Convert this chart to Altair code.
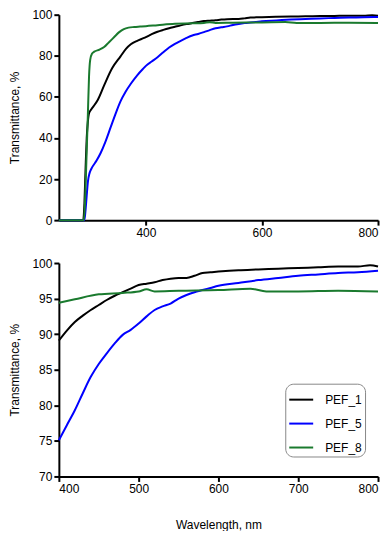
import altair as alt
import pandas as pd

series_names = ["PEF_1", "PEF_5", "PEF_8"]
series_colors = ["#000000", "#0000ff", "#1a7a2e"]

# PEF_1 (black)
wl_1 = [250, 292, 294, 296, 298, 300, 302, 306, 310, 317, 328, 342, 356, 366, 374, 385, 397,
        400, 410, 420, 430, 440, 450, 460, 470, 480, 490, 500, 510, 520, 530, 540, 550, 560,
        570, 580, 590, 600, 625, 650, 675, 700, 725, 750, 775, 790, 800]
t_1 = [0, 0, 8, 25, 40, 48, 52, 54, 55.5, 58.5, 65.6, 74, 79.6, 83.5, 85.6, 87.3, 88.7,
       89.1, 90.5, 91.7, 92.6, 93.4, 94.1, 94.8, 95.4, 95.9, 96.4, 96.9, 97.1, 97.3, 97.6, 97.8, 97.9, 97.9,
       98.2, 98.6, 98.7, 98.8, 99.0, 99.1, 99.2, 99.3, 99.4, 99.5, 99.5, 99.7, 99.5]

# PEF_5 (blue)
wl_5 = [250, 294, 296, 298, 300, 303, 306, 315, 322, 330, 339, 348, 356, 365, 374, 385, 397,
        400, 410, 420, 430, 440, 450, 460, 470, 480, 490, 500, 510, 520, 530, 540, 550, 560,
        570, 580, 590, 600, 625, 650, 675, 700, 725, 750, 775, 800]
t_5 = [0, 0, 5, 12, 18.6, 23, 25, 29, 32.7, 38, 45, 52, 57.7, 62.5, 66.4, 70.5, 74.2,
       75.1, 77.2, 79.3, 81.7, 84.0, 85.8, 87.3, 88.7, 89.9, 90.6, 91.5, 92.5, 93.4, 93.9, 94.3, 95.0, 95.5,
       95.9, 96.2, 96.5, 96.8, 97.2, 97.6, 97.9, 98.2, 98.4, 98.6, 98.7, 98.9]

# PEF_8 (green)
wl_8 = [250, 293, 295, 297, 300, 302, 304, 307, 311, 320, 328, 336, 345, 354, 362, 370, 380, 390,
        400, 420, 450, 480, 500, 510, 520, 550, 600, 640, 660, 700, 750, 800]
t_8 = [0, 0, 8, 25, 51.5, 70, 78, 81, 82, 83, 84.3, 86.5, 89, 91.5, 93, 93.7, 94, 94.2,
       94.4, 94.9, 95.6, 95.8, 96.0, 96.3, 96.0, 96.1, 96.2, 96.4, 96.0, 96.0, 96.1, 96.0]

frames = []
for name, wl, t in [("PEF_1", wl_1, t_1), ("PEF_5", wl_5, t_5), ("PEF_8", wl_8, t_8)]:
    frames.append(pd.DataFrame({"wl": wl, "T": t, "series": name}))
df = pd.concat(frames, ignore_index=True)
df_zoom = df[df["wl"] >= 400]

FONT = "Liberation Sans"
color_scale = alt.Scale(domain=series_names, range=series_colors)

top = alt.Chart(df).mark_line(strokeWidth=2, interpolate="monotone").encode(
    x=alt.X("wl:Q", scale=alt.Scale(domain=[250, 800], nice=False, zero=False),
            axis=alt.Axis(values=[400, 600, 800], title=None)),
    y=alt.Y("T:Q", scale=alt.Scale(domain=[0, 100], nice=False),
            axis=alt.Axis(values=[0, 20, 40, 60, 80, 100], title="Transmittance, %", titlePadding=10)),
    color=alt.Color("series:N", scale=color_scale, legend=None),
).properties(width=320, height=206)

bottom = alt.Chart(df_zoom).mark_line(strokeWidth=2, interpolate="monotone").encode(
    x=alt.X("wl:Q", scale=alt.Scale(domain=[400, 800], nice=False, zero=False),
            axis=alt.Axis(values=[400, 500, 600, 700, 800], title="Wavelength, nm", titlePadding=25)),
    y=alt.Y("T:Q", scale=alt.Scale(domain=[70, 100], nice=False, zero=False),
            axis=alt.Axis(values=[70, 75, 80, 85, 90, 95, 100], title="Transmittance, %", titlePadding=10)),
    color=alt.Color("series:N", scale=color_scale, title=None,
                    legend=alt.Legend(orient="none", legendX=227, legendY=121,
                                      symbolType="stroke", symbolSize=576, symbolStrokeWidth=2,
                                      labelOffset=11, rowPadding=5, padding=3,
                                      strokeColor="#888888", cornerRadius=8, fillColor="white",
                                      labelFontSize=12, labelFont=FONT, labelColor="black")),
).properties(width=320, height=214)

chart = alt.vconcat(top, bottom, spacing=19).resolve_scale(color="independent").resolve_legend(
    color="independent"
).configure_view(stroke=None).configure_axis(
    grid=False, domainColor="black", domainWidth=2, tickColor="black", tickWidth=2, tickSize=5,
    labelFont=FONT, labelFontSize=12, labelColor="black", titleFont=FONT, titleFontSize=12,
    titleFontWeight="normal", titleColor="black", labelPadding=2,
).properties(padding={"left": 0, "top": 0, "right": 0, "bottom": 0})

chart.save("out.html", embed_options={"renderer": "svg", "actions": False})
